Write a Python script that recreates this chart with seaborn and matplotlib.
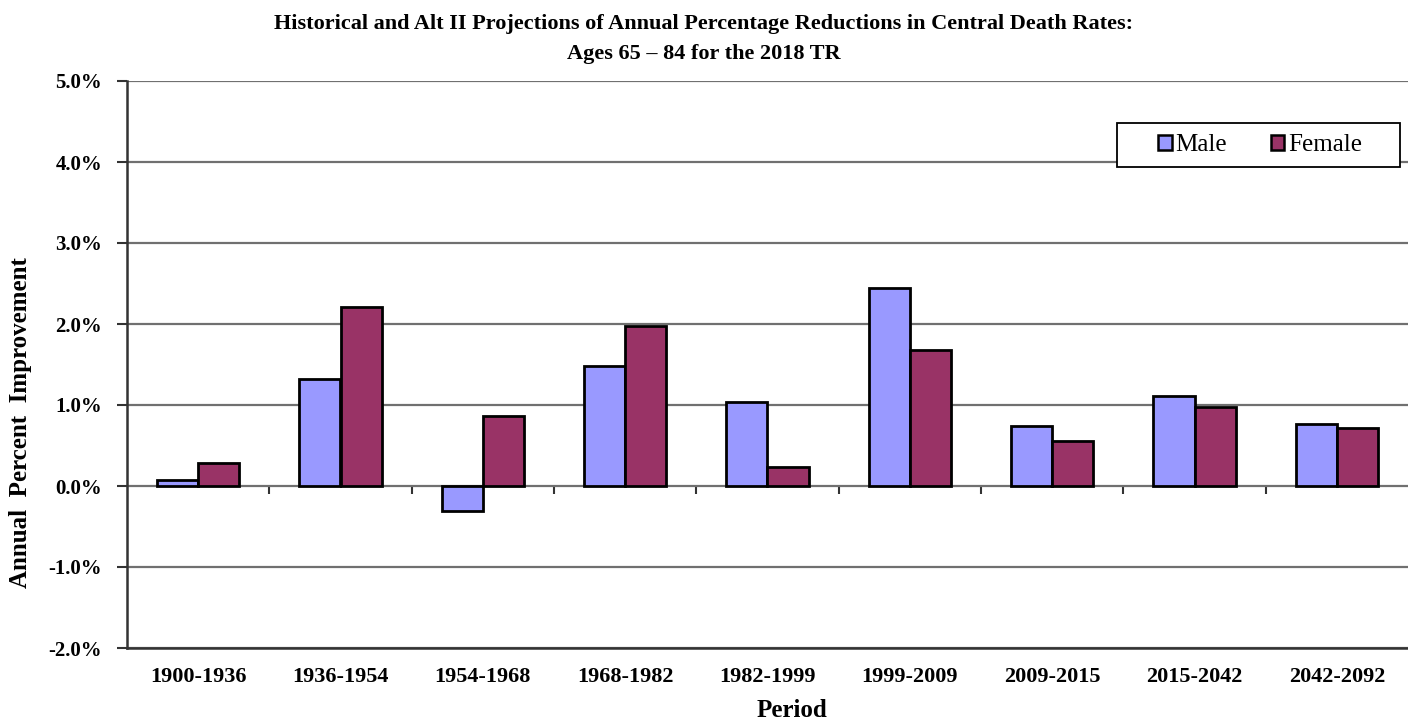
import matplotlib
matplotlib.use("Agg")
import matplotlib.pyplot as plt
import seaborn as sns
import pandas as pd
import numpy as np
from matplotlib.patches import Patch, Rectangle
from matplotlib.ticker import FuncFormatter, MultipleLocator

periods = ["1900-1936", "1936-1954", "1954-1968", "1968-1982", "1982-1999",
           "1999-2009", "2009-2015", "2015-2042", "2042-2092"]
male = [0.07, 1.32, -0.31, 1.48, 1.04, 2.44, 0.74, 1.11, 0.77]
female = [0.29, 2.21, 0.86, 1.98, 0.24, 1.68, 0.56, 0.98, 0.71]
series = ["Male", "Female"]
colors = {"Male": "#9999FF", "Female": "#993366"}

df = pd.DataFrame({
    "Period": periods * 2,
    "Sex": ["Male"] * len(periods) + ["Female"] * len(periods),
    "Value": male + female,
})

sns.set_theme(style="white")
plt.rcParams["font.family"] = ["Liberation Serif", "DejaVu Serif"]
plt.rcParams["font.weight"] = "bold"
for k in ["text.color", "axes.labelcolor", "xtick.labelcolor", "ytick.labelcolor"]:
    plt.rcParams[k] = "black"

W, H = 1408, 721
fig = plt.figure(figsize=(W / 100, H / 100), dpi=100)
ax = fig.add_axes([127 / W, 1 - 648 / H, (W - 127) / W, (648 - 81) / H])

sns.barplot(data=df, x="Period", y="Value", hue="Sex", hue_order=series,
            order=periods, palette=colors, width=0.58, dodge=True,
            edgecolor="black", linewidth=2, saturation=1, ax=ax, legend=False,
            zorder=3)

ax.set_ylim(-2, 5)
ax.set_xlim(-0.5, len(periods) - 0.5)
ax.yaxis.set_major_locator(MultipleLocator(1))
ax.yaxis.set_major_formatter(FuncFormatter(lambda v, p: f"{v:.1f}%"))
ax.grid(axis="y", color="#707070", linewidth=1.6, zorder=0)
ax.set_axisbelow(True)

for s in ["top", "right"]:
    ax.spines[s].set_visible(False)
ax.spines["left"].set_color("#333333")
ax.spines["left"].set_linewidth(1.8)
ax.spines["bottom"].set_color("#333333")
ax.spines["bottom"].set_linewidth(1.8)

ax.tick_params(axis="y", direction="out", length=7, width=1.5, color="#333333",
               pad=11, labelsize=15, left=True)
ax.tick_params(axis="x", length=0, pad=14, labelsize=16)
for lab in ax.get_xticklabels() + ax.get_yticklabels():
    lab.set_fontweight("bold")

# tick marks between categories along the zero line
sec = ax.secondary_xaxis(0, transform=ax.transData)
sec.set_xticks(np.arange(len(periods) - 1) + 0.5)
sec.set_xticklabels([])
sec.tick_params(axis="x", direction="out", length=6, width=1.5, color="#333333")
sec.spines["bottom"].set_visible(False)

ax.set_xlabel("Period", fontsize=18, fontweight="bold")
ax.set_ylabel("Annual  Percent  Improvement", fontsize=18, fontweight="bold")
ax.xaxis.set_label_coords(0.519, -0.111)
ax.xaxis.label.set_va("center")
ax.yaxis.set_label_coords(-0.074, 0.398)

fig.text(0.5, 1 - 24 / H, "Historical and Alt II Projections of Annual Percentage Reductions in Central Death Rates:",
         ha="center", va="center", fontsize=16, fontweight="bold")
fig.text(0.5, 1 - 54 / H, "Ages 65 \u2013 84 for the 2018 TR",
         ha="center", va="center", fontsize=16, fontweight="bold")

# legend frame
frame = Rectangle((1117 / W, 1 - 167 / H), (1400 - 1117) / W, (167 - 123) / H,
                  transform=fig.transFigure, facecolor="white", edgecolor="black",
                  linewidth=1.3, zorder=4)
fig.patches.append(frame)

handles = [Patch(facecolor=colors[s], edgecolor="black", linewidth=1.8, label=s) for s in series]
leg = fig.legend(handles=handles, loc="center", bbox_to_anchor=(1260 / W, 1 - 145 / H),
                 ncol=2, frameon=False,
                 handlelength=0.55, handleheight=0.55, handletextpad=0.15,
                 columnspacing=1.75, borderpad=0.0,
                 prop={"family": "Liberation Serif", "size": 18, "weight": "normal"})
leg.set_zorder(5)

fig.savefig("out.png", dpi=100)
